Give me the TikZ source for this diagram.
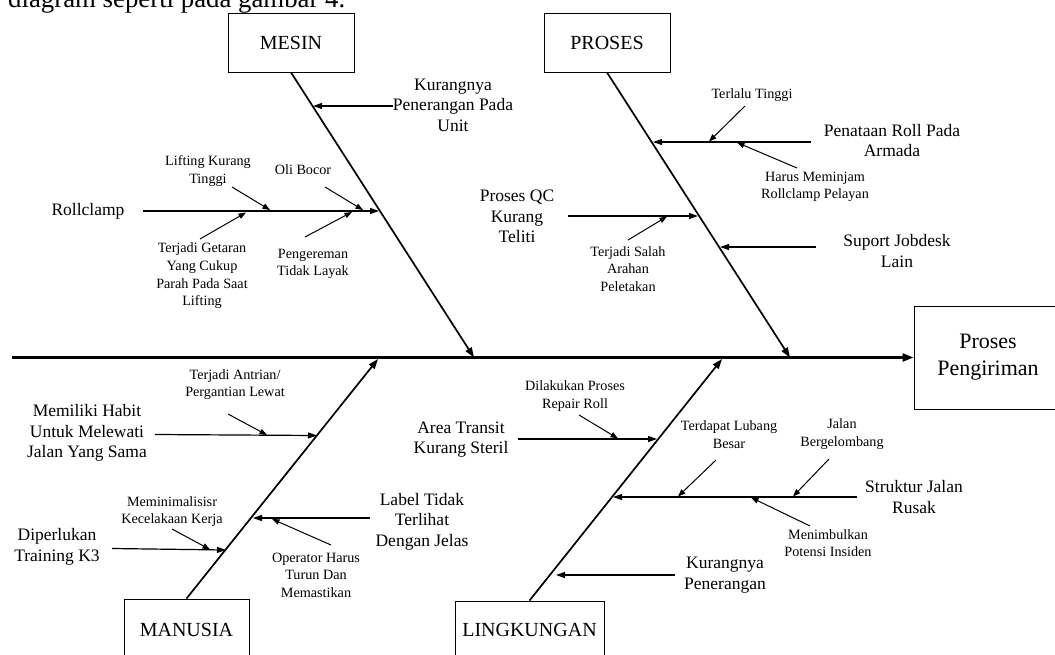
\documentclass[tikz,border=0pt]{standalone}
\usepackage{fontspec}
\setmainfont{Liberation Serif}
\usetikzlibrary{arrows.meta}
\begin{document}
\begin{tikzpicture}[x=1pt,y=-1pt,
  catbox/.style={draw,line width=0.9pt,inner sep=0,font=\fontsize{20}{24}\selectfont},
  bigtxt/.style={inner sep=0,align=center,font=\fontsize{17.5}{20.5}\selectfont},
  smalltxt/.style={inner sep=0,align=center,font=\fontsize{14.2}{17.6}\selectfont},
  spine/.style={line width=2.4pt,-{Triangle[length=11pt,width=8pt]}},
  bone/.style={line width=1.7pt,-{Triangle[length=10pt,width=7pt]}},
  branch/.style={line width=1.2pt,-{Triangle[length=9pt,width=6pt]}},
  sub/.style={line width=1pt,-{Triangle[length=7.5pt,width=5.5pt]}}]
\useasboundingbox (0,0) rectangle (1055,654);
\clip (0,0) rectangle (1055,654);
\fill[white] (0,0) rectangle (1055,654);

% partially visible header line
\node[anchor=base west,inner sep=0,font=\fontsize{26.8}{30}\selectfont] (hdr) at (8,7) {diagram seperti pada gambar 4.};

% category boxes
\node[catbox,minimum width=126pt,minimum height=59pt] (mesin) at (291,42.5) {MESIN};
\node[catbox,minimum width=126pt,minimum height=59pt] (proses) at (607,42.5) {PROSES};
\node[catbox,minimum width=125pt,minimum height=62pt] (manusia) at (186.5,630) {MANUSIA};
\node[catbox,minimum width=149pt,minimum height=58pt] (lingk) at (529.5,630) {LINGKUNGAN};
\node[catbox,minimum width=148pt,minimum height=103pt,align=center,font=\fontsize{22}{27}\selectfont] (effect) at (988,357.5) {Proses\\Pengiriman};

% spine and bones
\coordinate (sp0) at (12,357.5);
\draw[spine] (sp0) -- (effect.west);
\coordinate (mtip) at (474,357.5);
\coordinate (ptip) at (790,357.5);
\coordinate (htip) at (378,359);
\coordinate (ltip) at (722,359);
\draw[bone] (mesin.south) -- (mtip);
\draw[bone] (proses.south) -- (ptip);
\draw[bone] (manusia.north) -- (htip);
\draw[bone] (lingk.north) -- (ltip);

% ---------- MESIN ----------
\node[bigtxt] (kpu) at (453,105) {Kurangnya\\Penerangan Pada\\Unit};
\coordinate (kpu0) at (393,106); \coordinate (kpu1) at (313,106);
\draw[branch] (kpu0) -- (kpu1);
\node[bigtxt] (roll) at (88,211) {Rollclamp};
\coordinate (roll0) at (143,211); \coordinate (roll1) at (379,211);
\draw[branch] (roll0) -- (roll1);
\node[smalltxt] (lkt) at (208,171) {Lifting Kurang\\Tinggi};
\coordinate (lkt0) at (232,187); \coordinate (lkt1) at (270,210);
\draw[sub] (lkt0) -- (lkt1);
\node[smalltxt] (oli) at (303,170) {Oli Bocor};
\coordinate (oli0) at (325,187); \coordinate (oli1) at (363,210);
\draw[sub] (oli0) -- (oli1);
\node[smalltxt] (tgc) at (202,276) {Terjadi Getaran\\Yang Cukup\\Parah Pada Saat\\Lifting};
\coordinate (tgc0) at (200,239); \coordinate (tgc1) at (246,212.5);
\draw[sub] (tgc0) -- (tgc1);
\node[smalltxt] (ptl) at (313,264) {Pengereman\\Tidak Layak};
\coordinate (ptl0) at (305,237); \coordinate (ptl1) at (352,212);
\draw[sub] (ptl0) -- (ptl1);

% ---------- PROSES ----------
\node[bigtxt] (pra) at (892,140.5) {Penataan Roll Pada\\Armada};
\coordinate (pra0) at (811,142); \coordinate (pra1) at (653,142);
\draw[branch] (pra0) -- (pra1);
\node[smalltxt] (tt) at (752,95) {Terlalu Tinggi};
\coordinate (tt0) at (745,106); \coordinate (tt1) at (709,141.5);
\draw[sub] (tt0) -- (tt1);
\node[smalltxt] (hmr) at (815,187) {Harus Meminjam\\Rollclamp Pelayan};
\coordinate (hmr0) at (797,168); \coordinate (hmr1) at (737,142.5);
\draw[sub] (hmr0) -- (hmr1);
\node[bigtxt] (qc) at (517,216.5) {Proses QC\\Kurang\\Teliti};
\coordinate (qc0) at (568,216); \coordinate (qc1) at (698,216);
\draw[branch] (qc0) -- (qc1);
\node[smalltxt] (tsa) at (628,269) {Terjadi Salah\\Arahan\\Peletakan};
\coordinate (tsa0) at (628,240); \coordinate (tsa1) at (667,216.5);
\draw[sub] (tsa0) -- (tsa1);
\node[bigtxt] (sjl) at (897,251) {Suport Jobdesk\\Lain};
\coordinate (sjl0) at (816,247); \coordinate (sjl1) at (720,247);
\draw[branch] (sjl0) -- (sjl1);

% ---------- MANUSIA ----------
\node[bigtxt] (mhu) at (87,433) {Memiliki Habit\\Untuk Melewati\\Jalan Yang Sama};
\coordinate (mhu0) at (155,434.5); \coordinate (mhu1) at (317,435.5);
\draw[branch] (mhu0) -- (mhu1);
\node[smalltxt] (tap) at (235,384.5) {Terjadi Antrian/\\Pergantian Lewat};
\coordinate (tap0) at (228,414); \coordinate (tap1) at (267,435);
\draw[sub] (tap0) -- (tap1);
\node[bigtxt] (ltt) at (422,521.5) {Label Tidak\\Terlihat\\Dengan Jelas};
\coordinate (ltt0) at (370,518); \coordinate (ltt1) at (253,518);
\draw[branch] (ltt0) -- (ltt1);
\node[smalltxt] (oht) at (316,575) {Operator Harus\\Turun Dan\\Memastikan};
\coordinate (oht0) at (331,545); \coordinate (oht1) at (272,519);
\draw[sub] (oht0) -- (oht1);
\node[bigtxt] (dtk) at (57,547) {Diperlukan\\Training K3};
\coordinate (dtk0) at (112,548.5); \coordinate (dtk1) at (226,550);
\draw[branch] (dtk0) -- (dtk1);
\node[smalltxt] (mkk) at (172,511.5) {Meminimalisisr\\Kecelakaan Kerja};
\coordinate (mkk0) at (172,529); \coordinate (mkk1) at (210,549.5);
\draw[sub] (mkk0) -- (mkk1);

% ---------- LINGKUNGAN ----------
\node[bigtxt] (ats) at (461,439.5) {Area Transit\\Kurang Steril};
\coordinate (ats0) at (518,439); \coordinate (ats1) at (657,439);
\draw[branch] (ats0) -- (ats1);
\node[smalltxt] (dpr) at (575,396) {Dilakukan Proses\\Repair Roll};
\coordinate (dpr0) at (579,415); \coordinate (dpr1) at (618,438.5);
\draw[sub] (dpr0) -- (dpr1);
\node[bigtxt] (sjr) at (914,497) {Struktur Jalan\\Rusak};
\coordinate (sjr0) at (857,497); \coordinate (sjr1) at (613,497);
\draw[branch] (sjr0) -- (sjr1);
\node[smalltxt] (tlb) at (729,434.5) {Terdapat Lubang\\Besar};
\coordinate (tlb0) at (716,460); \coordinate (tlb1) at (678,496.5);
\draw[sub] (tlb0) -- (tlb1);
\node[smalltxt] (jbg) at (842,434) {Jalan\\Bergelombang};
\coordinate (jbg0) at (829,459); \coordinate (jbg1) at (793,496.5);
\draw[sub] (jbg0) -- (jbg1);
\node[smalltxt] (mpi) at (828,543) {Menimbulkan\\Potensi Insiden};
\coordinate (mpi0) at (810,526); \coordinate (mpi1) at (751,497.5);
\draw[sub] (mpi0) -- (mpi1);
\node[bigtxt] (kp) at (725,575) {Kurangnya\\Penerangan};
\coordinate (kp0) at (675,575); \coordinate (kp1) at (556,575);
\draw[branch] (kp0) -- (kp1);
\end{tikzpicture}
\end{document}
